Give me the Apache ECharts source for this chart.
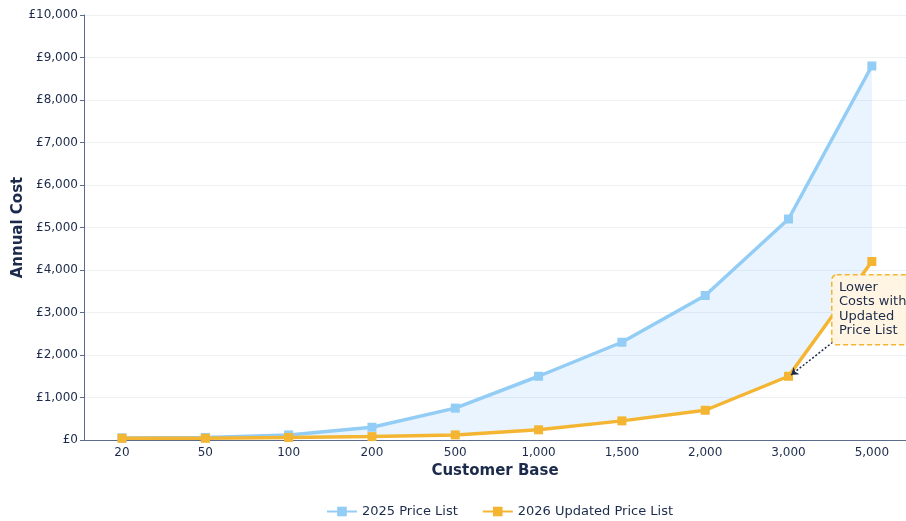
<!DOCTYPE html>
<html>
<head>
<meta charset="utf-8">
<script src="https://cdn.jsdelivr.net/npm/echarts@6/dist/echarts.min.js"></script>
<style>html,body{margin:0;padding:0;background:#fff}#c{width:906px;height:521px}</style>
</head>
<body>
<div id="c"></div>
<script>
const categories = ['20','50','100','200','500','1,000','1,500','2,000','3,000','5,000'];
const price2025 = [50, 60, 120, 300, 750, 1500, 2300, 3400, 5200, 8800];
const price2026 = [40, 40, 60, 80, 120, 240, 450, 700, 1500, 4200];
const yMin = 0, yMax = 10000, yStep = 1000;
const annotationText = 'Lower\nCosts with\nUpdated\nPrice List';
const annotationIndex = 8;

const FONT = 'DejaVu Sans';
const NAVY = '#1c2b4b';
const AXIS = '#5d6b8a';
const BLUE = '#93CDF5';
const ORANGE = '#F4B533';

const pts = arr => arr.map((v, i) => [i, v]);

const chart = echarts.init(document.getElementById('c'), null, {renderer: 'canvas'});
chart.setOption({
  animation: false,
  textStyle: {fontFamily: FONT},
  grid: {left: 84, right: 0, top: 15, bottom: 81, containLabel: false, outerBoundsMode: 'none'},
  legend: {
    data: ['2025 Price List', '2026 Updated Price List'],
    left: 321, top: 500,
    itemWidth: 30, itemHeight: 12, itemGap: 24,
    textStyle: {fontFamily: FONT, fontSize: 13, color: NAVY}
  },
  xAxis: {
    type: 'value',
    min: -0.456, max: 9.41,
    name: 'Customer Base', nameLocation: 'middle', nameGap: 23,
    nameTextStyle: {fontFamily: FONT, fontSize: 15, fontWeight: 'bold', color: NAVY},
    axisLine: {show: true, onZero: false, lineStyle: {color: AXIS, width: 1}},
    axisTick: {show: false},
    splitLine: {show: false},
    axisLabel: {
      customValues: categories.map((c, i) => i),
      formatter: v => categories[Math.round(v)],
      fontFamily: FONT, fontSize: 12, color: NAVY, margin: 7
    }
  },
  yAxis: {
    type: 'value', min: yMin, max: yMax, interval: yStep,
    name: 'Annual Cost', nameLocation: 'middle', nameGap: 58, nameRotate: 90,
    nameMoveOverlap: false,
    nameTextStyle: {fontFamily: FONT, fontSize: 15, fontWeight: 'bold', color: NAVY},
    axisLine: {show: true, onZero: false, lineStyle: {color: AXIS, width: 1}},
    axisTick: {show: true, length: 4, lineStyle: {color: AXIS}},
    splitLine: {show: true, lineStyle: {color: '#eef0f3', width: 1}},
    axisLabel: {
      formatter: v => '£' + v.toLocaleString('en-GB'),
      fontFamily: FONT, fontSize: 12, color: NAVY, margin: 6
    }
  },
  series: [
    {
      name: 'band', type: 'custom', silent: true, z: 1,
      data: [0],
      renderItem: function (params, api) {
        const upper = price2025.map((v, i) => api.coord([i, v]));
        const lower = price2026.map((v, i) => api.coord([i, v])).reverse();
        return {
          type: 'polygon',
          shape: {points: upper.concat(lower)},
          style: {fill: 'rgba(144,202,249,0.2)'}
        };
      }
    },
    {
      name: '2025 Price List', type: 'line', data: pts(price2025),
      symbol: 'rect', symbolSize: 9, z: 3,
      lineStyle: {color: BLUE, width: 3.5}, itemStyle: {color: BLUE}
    },
    {
      name: '2026 Updated Price List', type: 'line', data: pts(price2026),
      symbol: 'rect', symbolSize: 9, z: 4,
      lineStyle: {color: ORANGE, width: 3.5}, itemStyle: {color: ORANGE},
      markLine: {
        silent: true, animation: false,
        symbol: ['none', 'arrow'], symbolSize: 7,
        label: {show: false},
        lineStyle: {color: NAVY, width: 1.5, type: [2, 2]},
        data: [[
          {coord: [annotationIndex + 0.53, price2026[annotationIndex] + 800]},
          {coord: [annotationIndex + 0.03, price2026[annotationIndex] + 30]}
        ]]
      }
    }
  ],
  graphic: [
    {
      type: 'rect', left: 831, top: 274, z: 10,
      shape: {width: 86, height: 70, r: 5},
      style: {fill: '#fff5e2', stroke: ORANGE, lineWidth: 1.5, lineDash: [5, 3]}
    },
    {
      type: 'text', left: 839, top: 280, z: 11,
      style: {text: annotationText, fill: NAVY, font: '13px "DejaVu Sans"', lineHeight: 14.5}
    }
  ]
});
</script>
</body>
</html>
